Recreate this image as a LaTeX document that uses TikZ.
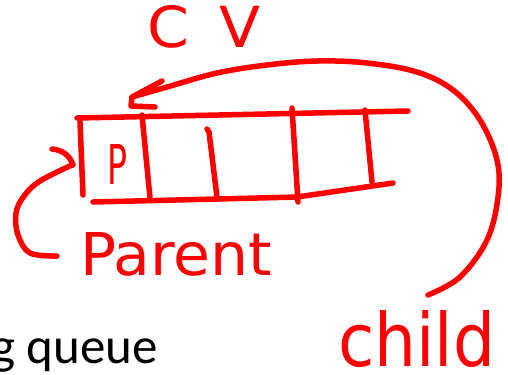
\documentclass[tikz,border=0pt]{standalone}
\usepackage{fontspec}
\setmainfont{Carlito}
\newfontfamily\handfont{DejaVu Sans}
\begin{document}
\begin{tikzpicture}[x=1bp,y=-1bp,
  ink/.style={draw=red, line width=5.5bp, line cap=round, line join=round},
  hand/.style={text=red, inner sep=0pt, font=\handfont}]
\useasboundingbox (0,0) rectangle (508,374);
% labels
\node[hand, anchor=base west] (cv) at (147,47) {\resizebox{113bp}{42bp}{C\hspace{0.5em}V}};
\node[hand, anchor=base west] (parent) at (80,275) {\resizebox{192bp}{43bp}{Parent}};
\node[hand, anchor=base west] (child) at (338,366) {\resizebox{157bp}{56bp}{child}};
\node[hand, anchor=center] (p) at (117,164) {\resizebox{20bp}{40bp}{P}};
\node[anchor=base east, inner sep=0pt, font=\fontsize{51bp}{60bp}\selectfont] (queue) at (158,363) {g queue};
% queue
\draw[ink] (77,118) -- (408,111);
\draw[ink] (93,202) -- (217,199) -- (297,197) -- (393,183);
\draw[ink] (80,122) -- (83,195);
\draw[ink] (142,115) -- (150,198);
\draw[ink] (207,129) -- (209,132) -- (217,197);
\draw[ink] (292,108) -- (298,202);
\draw[ink] (365,110) -- (372,182);
% arrow from child to CV
\coordinate (childtop) at (428,295);
\coordinate (cvtip) at (132,97);
\draw[ink] plot[smooth, tension=0.6] coordinates {(childtop) (460,277) (487,240) (498,197) (497,160) (480,120) (453,90) (417,72) (367,63) (317,61) (267,65) (217,73) (167,87) (cvtip)};
\draw[ink] (162,81) -- (cvtip) -- (131,106) -- (155,107);
% arrow from Parent to queue
\coordinate (parentstart) at (57,256);
\coordinate (parenttip) at (72,165);
\draw[ink] plot[smooth, tension=0.6] coordinates {(parentstart) (30,253) (18,235) (16,213) (24,196) (40,181) (parenttip)};
\draw[ink] (52,149) .. controls (63,150) and (70,156) .. (73,165);
\end{tikzpicture}
\end{document}
